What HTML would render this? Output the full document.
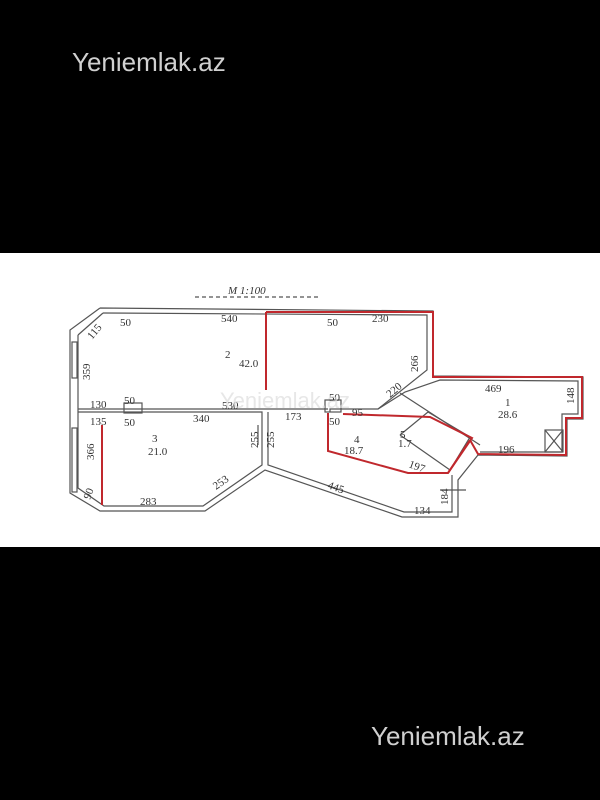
<!DOCTYPE html>
<html><head><style>
html,body{margin:0;padding:0;background:#000;width:600px;height:800px;overflow:hidden}
.wm{position:absolute;color:#d0d0d0;font-family:"Liberation Sans",sans-serif;font-size:26px}
</style></head><body>
<div class="wm" style="left:72px;top:47px">Yeniemlak.az</div>
<div class="wm" style="left:371px;top:721px">Yeniemlak.az</div>
<svg style="position:absolute;left:0;top:253px" width="600" height="294" viewBox="0 253 600 294">
<rect x="0" y="253" width="600" height="294" fill="#fff"/>
<g fill="none" stroke="#555" stroke-width="1.2">
<polyline points="100,308 433,311 433,376 583,377 583,419 567,419 567,456 478,455 458,480 458,517 402,517 265,470 205,511 100,511 70,493 70,330 100,308"/>
<polyline points="103,313 427,315 427,370 378,409 330,409 330,412"/>
<polyline points="78,335 78,488 104,506 203,506 262,465 262,412 78,412"/>
<polyline points="78,335 103,313"/>
<line x1="78" y1="409" x2="328" y2="409"/>
<polyline points="268,412 268,465 404,512 452,512 452,475"/>
<polyline points="378,409 405,392 440,380 578,381 578,414 562,414 562,452 480,452"/>
<polyline points="400,393 480,445"/>
<polyline points="400,435 428,412 470,437 450,470 400,435"/>
<rect x="545" y="430" width="18" height="22"/>
<line x1="545" y1="430" x2="563" y2="452"/><line x1="563" y1="430" x2="545" y2="452"/>
<rect x="325" y="400" width="16" height="12"/>
<rect x="124" y="403" width="18" height="10"/>
<rect x="72" y="342" width="5" height="36"/><rect x="72" y="428" width="5" height="64"/>
<line x1="440" y1="490" x2="466" y2="490"/>
<line x1="258" y1="425" x2="258" y2="445"/>
<line x1="195" y1="297" x2="320" y2="297" stroke-dasharray="4,3"/>
</g>
<g fill="none" stroke="#c0282d" stroke-width="2">
<polyline points="266,312 433,312 433,377 582,377 582,418 566,418 566,455 478,454 470,440"/>
<line x1="266" y1="312" x2="266" y2="390"/>
<line x1="102" y1="425" x2="102" y2="505"/>
<polyline points="328,413 328,451 408,473 448,473 472,438 430,417 343,414"/>
<line x1="448" y1="473" x2="470" y2="440"/>
</g>
<g font-family="Liberation Serif,serif" font-size="11" fill="#333">
<text x="228" y="294" font-style="italic">M 1:100</text>
<text x="120" y="326">50</text><text x="221" y="322">540</text><text x="327" y="326">50</text><text x="372" y="322">230</text>
<text x="225" y="358">2</text><text x="239" y="367">42.0</text>
<text x="90" y="408">130</text><text x="124" y="404">50</text><text x="222" y="409">530</text>
<text x="90" y="425">135</text><text x="124" y="426">50</text><text x="193" y="422">340</text>
<text x="285" y="420">173</text><text x="329" y="401">50</text><text x="352" y="416">95</text><text x="329" y="425">50</text>
<text x="152" y="442">3</text><text x="148" y="455">21.0</text>
<text x="354" y="443">4</text><text x="344" y="454">18.7</text>
<text x="485" y="392">469</text><text x="505" y="406">1</text><text x="498" y="418">28.6</text>
<text x="498" y="453">196</text><text x="140" y="505">283</text><text x="414" y="514">134</text>
<text x="400" y="438">5</text><text x="398" y="447">1.7</text>
<text x="327" y="488" transform="rotate(20 327 488)">445</text>
<text x="408" y="467" transform="rotate(20 408 467)">197</text>
<text x="216" y="490" transform="rotate(-35 216 490)">253</text>
<text x="390" y="398" transform="rotate(-40 390 398)">220</text>
<text x="92" y="340" transform="rotate(-50 92 340)">115</text>
<text x="90" y="380" transform="rotate(-90 90 380)">359</text>
<text x="94" y="460" transform="rotate(-90 94 460)">366</text>
<text x="418" y="372" transform="rotate(-90 418 372)">266</text>
<text x="258" y="448" transform="rotate(-90 258 448)">255</text>
<text x="274" y="448" transform="rotate(-90 274 448)">255</text>
<text x="574" y="404" transform="rotate(-90 574 404)">148</text>
<text x="448" y="505" transform="rotate(-90 448 505)">184</text>
<text x="90" y="500" transform="rotate(-70 90 500)">90</text>
</g>
<text x="220" y="408" font-family="Liberation Sans,sans-serif" font-size="22" fill="#ddd" opacity="0.7">Yeniemlak.az</text>
</svg>
</body></html>
